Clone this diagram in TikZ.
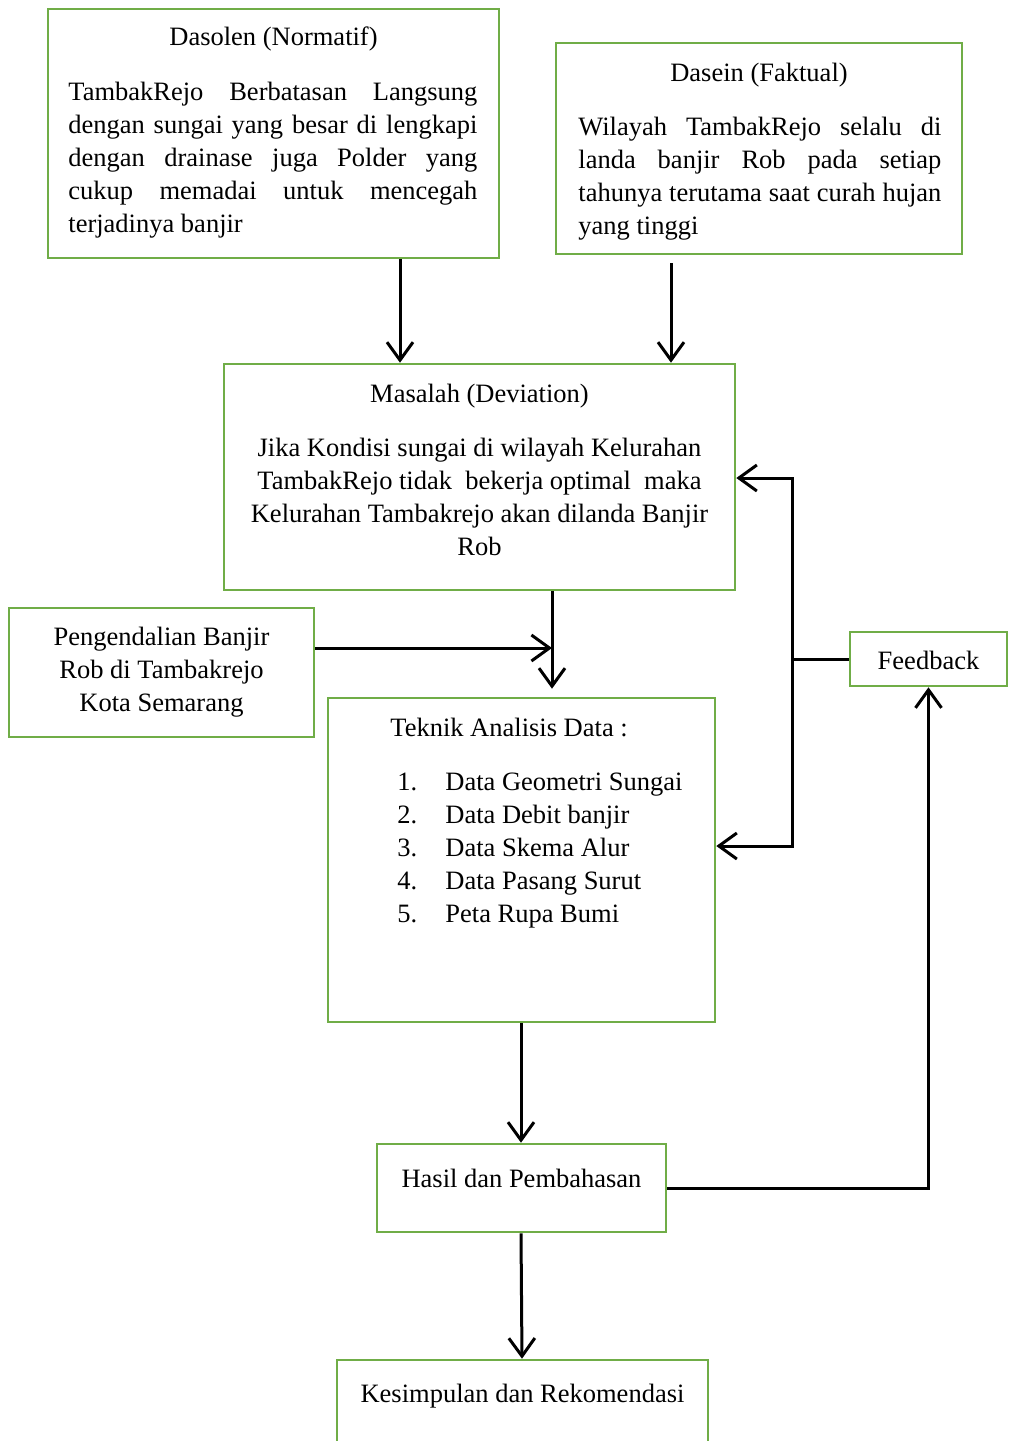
\documentclass[tikz,border=0pt]{standalone}
\usepackage{fontspec}
\setmainfont{Liberation Serif}
\usetikzlibrary{arrows.meta,fit}
\definecolor{boxgreen}{HTML}{70AD47}
\begin{document}
\begin{tikzpicture}[x=0.5pt,y=-0.5pt,
  box/.style={draw=boxgreen, line width=1.3pt, inner sep=0pt, rectangle},
  txt/.style={font=\fontsize{13.25pt}{16.5pt}\selectfont, inner sep=0pt},
  conn/.style={draw=black, line width=1.5pt},
  arr/.style={conn, -{Straight Barb[length=9pt,width=13pt]}}]
\useasboundingbox (0,0) rectangle (1009,1441);
\clip (0,0) rectangle (1009,1441);

% boxes
\node[box, fit={(48,9) (499,258)}] (dasolen) {};
\node[box, fit={(556,43) (962,254)}] (dasein) {};
\node[box, fit={(224,364) (735,590)}] (masalah) {};
\node[box, fit={(9,608) (314,737)}] (pengendalian) {};
\node[box, fit={(328,698) (715,1022)}] (teknik) {};
\node[box, fit={(850,632) (1007,686)}] (feedback) {};
\node[box, fit={(377,1144) (666,1232)}] (hasil) {};
\node[box, fit={(337,1360) (708,1460)}] (kesimpulan) {};

% Dasolen text
\node[txt, anchor=base] (dasolenT) at (273.5,45) {Dasolen (Normatif)};
\node[txt, anchor=base west] (dasolenL1) at (68,100) {\makebox[204.5pt][s]{TambakRejo Berbatasan Langsung}};
\node[txt, anchor=base west] (dasolenL2) at (68,133) {\makebox[204.5pt][s]{dengan sungai yang besar di lengkapi}};
\node[txt, anchor=base west] (dasolenL3) at (68,166) {\makebox[204.5pt][s]{dengan drainase juga Polder yang}};
\node[txt, anchor=base west] (dasolenL4) at (68,199) {\makebox[204.5pt][s]{cukup memadai untuk mencegah}};
\node[txt, anchor=base west] (dasolenL5) at (68,232) {terjadinya banjir};

% Dasein text
\node[txt, anchor=base] (daseinT) at (759,81) {Dasein (Faktual)};
\node[txt, anchor=base west] (daseinL1) at (578,135) {\makebox[181.5pt][s]{Wilayah TambakRejo selalu di}};
\node[txt, anchor=base west] (daseinL2) at (578,168) {\makebox[181.5pt][s]{landa banjir Rob pada setiap}};
\node[txt, anchor=base west] (daseinL3) at (578,201) {\makebox[181.5pt][s]{tahunya terutama saat curah hujan}};
\node[txt, anchor=base west] (daseinL4) at (578,234) {yang tinggi};

% Masalah text
\node[txt, anchor=base] (masalahT) at (479.5,402) {Masalah (Deviation)};
\node[txt, anchor=base] (masalahL1) at (479.5,456) {Jika Kondisi sungai di wilayah Kelurahan};
\node[txt, anchor=base] (masalahL2) at (479.5,489) {TambakRejo tidak\ \ bekerja optimal\ \ maka};
\node[txt, anchor=base] (masalahL3) at (479.5,522) {Kelurahan Tambakrejo akan dilanda Banjir};
\node[txt, anchor=base] (masalahL4) at (479.5,555) {Rob};

% Pengendalian text
\node[txt, anchor=base] (pengL1) at (161.5,645) {Pengendalian Banjir};
\node[txt, anchor=base] (pengL2) at (161.5,678) {Rob di Tambakrejo};
\node[txt, anchor=base] (pengL3) at (161.5,711) {Kota Semarang};

% Teknik text
\node[txt, anchor=base west] (teknikT) at (390,736) {Teknik Analisis Data :};
\node[txt, anchor=base west] (n1) at (397,790) {1.};
\node[txt, anchor=base west] (i1) at (445,790) {Data Geometri Sungai};
\node[txt, anchor=base west] (n2) at (397,823) {2.};
\node[txt, anchor=base west] (i2) at (445,823) {Data Debit banjir};
\node[txt, anchor=base west] (n3) at (397,856) {3.};
\node[txt, anchor=base west] (i3) at (445,856) {Data Skema Alur};
\node[txt, anchor=base west] (n4) at (397,889) {4.};
\node[txt, anchor=base west] (i4) at (445,889) {Data Pasang Surut};
\node[txt, anchor=base west] (n5) at (397,922) {5.};
\node[txt, anchor=base west] (i5) at (445,922) {Peta Rupa Bumi};

% other labels
\node[txt, anchor=base] (feedbackT) at (928.5,669) {Feedback};
\node[txt, anchor=base] (hasilT) at (521.5,1187) {Hasil dan Pembahasan};
\node[txt, anchor=base] (kesT) at (522.5,1402) {Kesimpulan dan Rekomendasi};

% connectors
\draw[arr] (dasolen.south -| 400,0) -- (masalah.north -| 400,0);
\draw[arr, shorten <=4pt] (dasein.south -| 671,0) -- (masalah.north -| 671,0);
\draw[arr, shorten >=4pt] (masalah.south -| 552,0) -- (teknik.north -| 552,0);
\coordinate (join) at (552,648);
\draw[arr] (pengendalian.east |- join) -- (join);
\draw[arr] (teknik.south -| 521,0) -- (hasil.north -| 521,0);
\draw[arr] (hasil.south -| 521,0) -- (kesimpulan.north -| 522,0);
\draw[arr] (hasil.east) -| (feedback.south);
\coordinate (fb) at (792,659);
\draw[conn] (feedback.west) -- (fb);
\draw[arr] (fb) |- (masalah.east |- 0,478);
\draw[arr] (fb) |- (teknik.east |- 0,846);
\end{tikzpicture}
\end{document}
